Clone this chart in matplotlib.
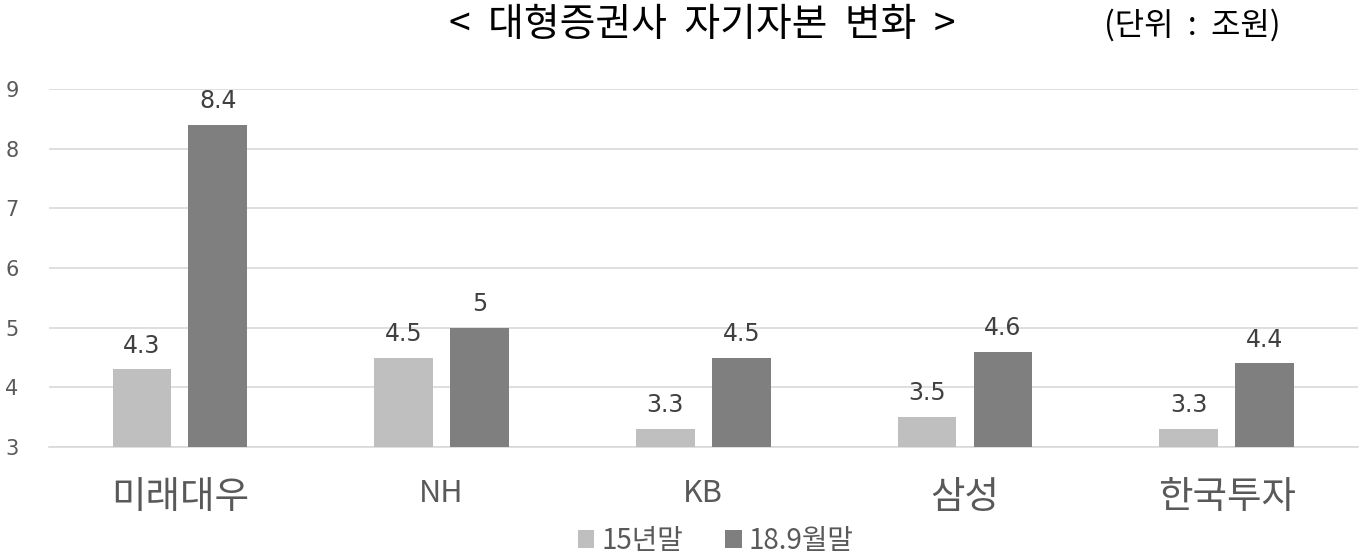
import numpy as np
import matplotlib
matplotlib.use("Agg")
import matplotlib.pyplot as plt

plt.rcParams['font.family'] = ['Noto Sans CJK KR', 'DejaVu Sans']

# ── Data ──────────────────────────────────────────────────────────────────────
categories = ["미래대우", "NH", "KB", "삼성", "한국투자"]
series_names = ["15년말", "18.9월말"]
end_2015 = [4.3, 4.5, 3.3, 3.5, 3.3]
sep_2018 = [8.4, 5.0, 4.5, 4.6, 4.4]
label_2015 = ["4.3", "4.5", "3.3", "3.5", "3.3"]
label_2018 = ["8.4", "5", "4.5", "4.6", "4.4"]
y_ticks = [3, 4, 5, 6, 7, 8, 9]

LIGHT = "#bfbfbf"
DARK = "#7f7f7f"
TEXT = "#595959"

fig = plt.figure(figsize=(13.63, 5.56), dpi=100)
ax = fig.add_axes([0.036, 0.196, 0.96, 0.644])

x = np.arange(len(categories))
w = 0.225
off = 0.145
b1 = ax.bar(x - off, np.array(end_2015) - 3, w, bottom=3, color=LIGHT,
            label=series_names[0], zorder=3)
b2 = ax.bar(x + off, np.array(sep_2018) - 3, w, bottom=3, color=DARK,
            label=series_names[1], zorder=3)

for xi, v, s in zip(x - off, end_2015, label_2015):
    ax.text(xi, v + 0.2, s, ha="center", va="bottom", fontsize=17,
            color="#404040", family="DejaVu Sans")
for xi, v, s in zip(x + off, sep_2018, label_2018):
    ax.text(xi, v + 0.2, s, ha="center", va="bottom", fontsize=17,
            color="#404040", family="DejaVu Sans")

ax.set_xlim(-0.5, len(categories) - 0.5)
ax.set_ylim(3, 9)
ax.set_yticks(y_ticks)
ax.set_yticklabels([str(t) for t in y_ticks], fontsize=15, color=TEXT,
                   family="DejaVu Sans")
ax.yaxis.grid(True, color="#d9d9d9", linewidth=1.2, zorder=0)
ax.set_axisbelow(True)
ax.tick_params(axis="y", length=0, pad=22)
ax.set_xticks(x)
ax.set_xticklabels(categories, color=TEXT)
for lbl, name in zip(ax.get_xticklabels(), categories):
    lbl.set_fontsize(22 if name.isascii() else 27)
ax.tick_params(axis="x", length=0, pad=22)
for sp in ["top", "right", "left"]:
    ax.spines[sp].set_visible(False)
ax.spines["bottom"].set_color("#d9d9d9")
ax.spines["bottom"].set_linewidth(1.2)

fig.text(0.515, 0.955, "<  대형증권사  자기자본  변화  >", ha="center",
         va="center", fontsize=28, color="black")
fig.text(0.875, 0.955, "(단위  :  조원)", ha="center", va="center",
         fontsize=23, color="black")

fig.legend(handles=[b1, b2], loc="center", bbox_to_anchor=(0.525, 0.027),
           ncol=2, frameon=False, fontsize=20, handlelength=0.6,
           handleheight=0.6, handletextpad=0.25, columnspacing=1.5,
           labelcolor=TEXT)

fig.savefig("out.png", dpi=100)
